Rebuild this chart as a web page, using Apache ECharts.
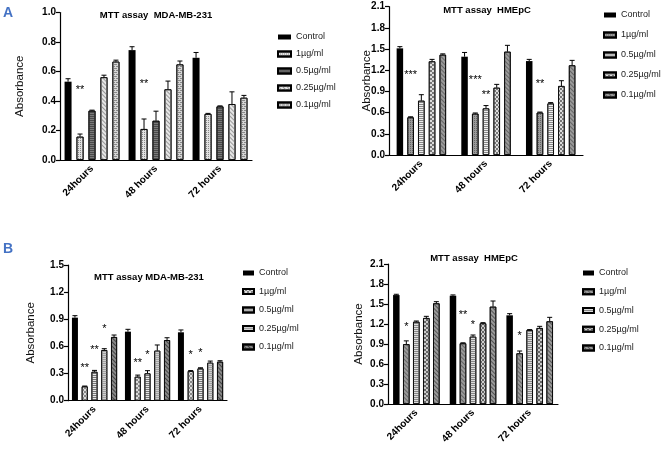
<!DOCTYPE html>
<html><head><meta charset="utf-8">
<script src="https://cdn.jsdelivr.net/npm/echarts@6/dist/echarts.min.js"></script>
<style>
body{margin:0;background:#fff;width:661px;height:450px;position:relative;overflow:hidden}
.p{position:absolute}
</style></head><body>
<div id="aL" class="p" style="left:0;top:0;width:345px;height:225px"></div>
<div id="aR" class="p" style="left:330px;top:0;width:331px;height:225px"></div>
<div id="bL" class="p" style="left:0;top:225px;width:330px;height:225px"></div>
<div id="bR" class="p" style="left:330px;top:225px;width:331px;height:225px"></div>
<script>
// ---------- DATA ----------
const categories = ['24hours', '48 hours', '72 hours'];
const groups = ['Control', '1µg/ml', '0.5µg/ml', '0.25µg/ml', '0.1µg/ml'];

// Panel A, MDA-MB-231 (rows = groups, cols = time points)
const aMdaMean = [[0.531,0.745,0.693],[0.158,0.210,0.312],[0.334,0.266,0.363],[0.561,0.479,0.379],[0.667,0.648,0.422]];
const aMdaErr  = [[0.020,0.023,0.036],[0.018,0.068,0.004],[0.004,0.065,0.004],[0.014,0.056,0.083],[0.010,0.023,0.016]];
const aMdaStars = [[0,1,0.49],[1,1,0.53]];
const aMdaStarText = ['**','**'];
const aMdaTicks = [0, 1.0, 0.2];

// Panel A, HMEpC
const aHmeMean = [[1.510,1.392,1.330],[0.533,0.585,0.600],[0.769,0.660,0.730],[1.326,0.953,0.977],[1.420,1.463,1.270]];
const aHmeErr  = [[0.024,0.060,0.024],[0.008,0.010,0.008],[0.085,0.040,0.012],[0.028,0.047,0.075],[0.012,0.090,0.070]];
const aHmeStars = [[0,1,1.165],[1,1,1.095],[1,2,0.88],[2,1,1.04]];
const aHmeStarText = ['***','***','**','**'];
const aHmeTicks = [0, 2.1, 0.3];

// Panel B, MDA-MB-231
const bMdaMean = [[0.918,0.763,0.756],[0.158,0.265,0.328],[0.320,0.302,0.357],[0.560,0.553,0.420],[0.704,0.670,0.431]];
const bMdaErr  = [[0.022,0.026,0.026],[0.004,0.018,0.005],[0.015,0.030,0.007],[0.015,0.063,0.018],[0.022,0.026,0.011]];
const bMdaStars = [[0,1,0.387],[0,2,0.59],[0,3,0.82],[1,1,0.44],[1,2,0.53],[2,1,0.53],[2,2,0.56]];
const bMdaStarText = ['**','**','*','**','*','*','*'];
const bMdaTicks = [0, 1.5, 0.3];

// Panel B, HMEpC
const bHmeMean = [[1.634,1.624,1.330],[0.897,0.910,0.760],[1.233,1.010,1.110],[1.290,1.210,1.140],[1.510,1.460,1.240]];
const bHmeErr  = [[0.012,0.012,0.025],[0.050,0.008,0.035],[0.012,0.025,0.006],[0.025,0.010,0.025],[0.025,0.085,0.060]];
const bHmeStars = [[0,1,1.20],[1,1,1.38],[1,2,1.23],[2,1,1.06]];
const bHmeStarText = ['*','**','*','*'];
const bHmeTicks = [0, 2.1, 0.3];

// ---------- STYLES ----------
const FONT = "'Liberation Sans', Arial, sans-serif";
const dots = c => ({symbol:'rect', symbolSize:1, color:c, dashArrayX:[1,1], dashArrayY:[1,1]});
const hlines = c => ({symbol:'rect', symbolSize:1, color:c, dashArrayX:[1,0], dashArrayY:[1,1]});
const diag = c => ({symbol:'rect', symbolSize:1, color:c, dashArrayX:[1,0], dashArrayY:[1,2], rotation:Math.PI/4});
const checker = c => ({symbol:'rect', symbolSize:1, color:c, dashArrayX:[[2,2],[0,2,2,0]], dashArrayY:[2,0]});
const brick = c => ({symbol:'rect', symbolSize:1, color:c, dashArrayX:[[3,1],[1,1,2,0]], dashArrayY:[1,1]});

function makeOption(cfg) {
  const spacing = cfg.barWidth * (1 + cfg.gap);
  const series = [];
  groups.forEach((g, i) => {
    const st = cfg.styles[i];
    series.push({
      type:'bar', name:g, data:cfg.mean[i], barWidth:cfg.barWidth, barGap:(cfg.gap*100)+'%',
      itemStyle:{color:st.color, decal:st.decal || null, borderColor:'#000', borderWidth: i===0 ? 0 : 0.8},
      z:2
    });
  });
  const errData = [];
  cfg.mean.forEach((row, g) => row.forEach((m, c) => errData.push([c, g, m, cfg.err[g][c]])));
  series.push({
    type:'custom', silent:true, z:5, data:errData, encode:{x:0, y:2},
    renderItem:(params, api) => {
      const c = api.value(0), g = api.value(1), m = api.value(2), e = api.value(3);
      const p0 = api.coord([c, m]), p1 = api.coord([c, m + e]);
      const x = p0[0] + (g - 2) * spacing;
      const cap = 2.5;
      return {type:'group', children:[
        {type:'line', shape:{x1:x, y1:p0[1], x2:x, y2:p1[1]}, style:{stroke:'#000', lineWidth:1}},
        {type:'line', shape:{x1:x-cap, y1:p1[1], x2:x+cap, y2:p1[1]}, style:{stroke:'#000', lineWidth:1}}
      ]};
    }
  });
  series.push({
    type:'custom', silent:true, z:6, data:cfg.stars, encode:{x:0, y:2},
    renderItem:(params, api) => {
      const c = api.value(0), g = api.value(1), y = api.value(2);
      const p = api.coord([c, y]);
      return {type:'text', style:{text:cfg.starText[params.dataIndex], x:p[0] + (g - 2) * spacing, y:p[1] + 2.5,
        align:'center', verticalAlign:'middle', font:'11px ' + FONT, fill:'#000'}};
    }
  });
  const titles = [{text:cfg.title, left:cfg.titleX, top:cfg.titleY, textAlign:'center', padding:0,
    textStyle:{fontFamily:FONT, fontSize:9.5, fontWeight:'bold', color:'#000'}}];
  if (cfg.letter) titles.push({text:cfg.letter, left:cfg.letterX, top:cfg.letterY, padding:0,
    textStyle:{fontFamily:FONT, fontSize:14, fontWeight:'bold', color:'#4472C4'}});
  return {
    animation:false,
    title:titles,
    legend:{orient:'vertical', left:cfg.legendX, top:cfg.legendY, padding:0, itemWidth:cfg.legendW, itemHeight:5,
      itemGap:cfg.legendGap, icon:'rect', data:groups,
      textStyle:{fontFamily:FONT, fontSize:9, color:'#222', lineHeight:12}},
    grid:cfg.grid,
    xAxis:{type:'category', data:categories,
      axisLine:{lineStyle:{color:'#000', width:1.2}},
      axisTick:{alignWithLabel:true, length:5, lineStyle:{color:'#000', width:1.2}},
      axisLabel:{rotate:45, margin:7, color:'#000', fontFamily:FONT, fontSize:10, fontWeight:'bold', interval:0}},
    yAxis:{type:'value', min:cfg.ticks[0], max:cfg.ticks[1], interval:cfg.ticks[2],
      name:'Absorbance', nameLocation:'middle', nameGap:cfg.nameGap, nameMoveOverlap:false,
      nameTextStyle:{fontFamily:FONT, fontSize:11.5, color:'#111'},
      axisLine:{show:true, lineStyle:{color:'#000', width:1.2}},
      axisTick:{show:true, length:4, lineStyle:{color:'#000', width:1.2}},
      splitLine:{show:false},
      axisLabel:{color:'#000', fontFamily:FONT, fontSize:10, fontWeight:'bold', margin:4,
        formatter:v => v.toFixed(1)}},
    series
  };
}

const charts = [
  {id:'aL', title:'MTT assay  MDA-MB-231', titleX:156, titleY:10, letter:'A', letterX:3, letterY:6,
   mean:aMdaMean, err:aMdaErr, stars:aMdaStars, starText:aMdaStarText, ticks:aMdaTicks,
   grid:{left:60, top:12.5, width:192, height:147.5}, barWidth:7, gap:0.71, nameGap:34,
   legendX:277, legendY:31, legendW:13, legendGap:5,
   styles:[{color:'#000'},{color:'#e2e2e2', decal:dots('#8a8a8a')},{color:'#7a7a7a', decal:hlines('#4a4a4a')},
           {color:'#e6e6e6', decal:diag('#9a9a9a')},{color:'#d6d6d6', decal:brick('#8a8a8a')}]},
  {id:'aR', title:'MTT assay  HMEpC', titleX:157, titleY:5,
   mean:aHmeMean, err:aHmeErr, stars:aHmeStars, starText:aHmeStarText, ticks:aHmeTicks,
   grid:{left:59, top:6.7, width:194, height:148.3}, barWidth:6.5, gap:0.65, nameGap:16,
   legendX:273, legendY:9, legendW:12, legendGap:8,
   styles:[{color:'#000'},{color:'#9a9a9a', decal:dots('#666')},{color:'#eeeeee', decal:hlines('#888')},
           {color:'#dddddd', decal:checker('#777')},{color:'#9a9a9a', decal:diag('#666')}]},
  {id:'bL', title:'MTT assay MDA-MB-231', titleX:149, titleY:47, letter:'B', letterX:3, letterY:17,
   mean:bMdaMean, err:bMdaErr, stars:bMdaStars, starText:bMdaStarText, ticks:bMdaTicks,
   grid:{left:68, top:40, width:159, height:135.7}, barWidth:6, gap:0.63, nameGap:31,
   legendX:242, legendY:42, legendW:11, legendGap:6.5,
   styles:[{color:'#000'},{color:'#dddddd', decal:checker('#888')},{color:'#e8e8e8', decal:hlines('#777')},
           {color:'#d0d0d0', decal:hlines('#a0a0a0')},{color:'#888888', decal:diag('#444')}]},
  {id:'bR', title:'MTT assay  HMEpC', titleX:144, titleY:28,
   mean:bHmeMean, err:bHmeErr, stars:bHmeStars, starText:bHmeStarText, ticks:bHmeTicks,
   grid:{left:58, top:39, width:170, height:140}, barWidth:6.5, gap:0.54, nameGap:23,
   legendX:252, legendY:42, legendW:11, legendGap:6.75,
   styles:[{color:'#000'},{color:'#9a9a9a', decal:diag('#666')},{color:'#dddddd', decal:hlines('#888')},
           {color:'#cccccc', decal:checker('#666')},{color:'#9a9a9a', decal:diag('#555')}]}
];

charts.forEach(cfg => {
  const chart = echarts.init(document.getElementById(cfg.id), null, {renderer:'canvas'});
  chart.setOption(makeOption(cfg));
});
</script>
</body></html>
